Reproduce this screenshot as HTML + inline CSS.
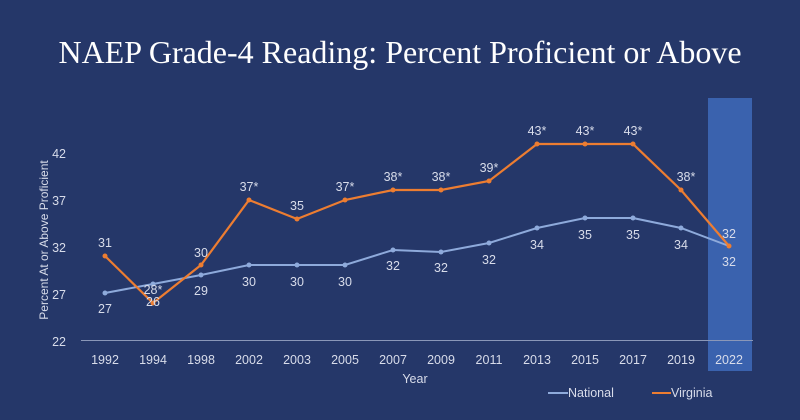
<!DOCTYPE html>
<html><head><meta charset="utf-8"><style>
html,body{margin:0;padding:0;background:#253769;}
svg{display:block}
</style></head><body>
<svg width="800" height="420" xmlns="http://www.w3.org/2000/svg" font-family="Liberation Sans, sans-serif">
<rect width="800" height="420" fill="#253769"/>
<text x="400" y="63" text-anchor="middle" font-family="Liberation Serif, serif" font-size="32" fill="#fff">NAEP Grade-4 Reading: Percent Proficient or Above</text>
<rect x="708" y="98" width="44" height="273" fill="#3a62ae"/>
<line x1="81" y1="340.5" x2="753" y2="340.5" stroke="#8a97b8" stroke-width="1"/>
<g font-size="12.5" fill="#d8dcea" text-anchor="end">
<text x="66" y="158">42</text><text x="66" y="205">37</text><text x="66" y="252">32</text><text x="66" y="299">27</text><text x="66" y="346">22</text>
</g>
<text transform="translate(48,240) rotate(-90)" text-anchor="middle" font-size="12" fill="#d8dcea">Percent At or Above Proficient</text>
<g font-size="12.5" fill="#d8dcea" text-anchor="middle">
<text x="105" y="364">1992</text><text x="153" y="364">1994</text><text x="201" y="364">1998</text><text x="249" y="364">2002</text><text x="297" y="364">2003</text><text x="345" y="364">2005</text><text x="393" y="364">2007</text><text x="441" y="364">2009</text><text x="489" y="364">2011</text><text x="537" y="364">2013</text><text x="585" y="364">2015</text><text x="633" y="364">2017</text><text x="681" y="364">2019</text><text x="729" y="364">2022</text>
<text x="415" y="383">Year</text>
</g>
<polyline fill="none" stroke="#8eaadb" stroke-width="2" points="105,293 153,284 201,275 249,265 297,265 345,265 393,250 441,252 489,243 537,228 585,218 633,218 681,228 729,246"/>
<g fill="#8eaadb"><circle cx="105" cy="293" r="2.5"/><circle cx="153" cy="284" r="2.5"/><circle cx="201" cy="275" r="2.5"/><circle cx="249" cy="265" r="2.5"/><circle cx="297" cy="265" r="2.5"/><circle cx="345" cy="265" r="2.5"/><circle cx="393" cy="250" r="2.5"/><circle cx="441" cy="252" r="2.5"/><circle cx="489" cy="243" r="2.5"/><circle cx="537" cy="228" r="2.5"/><circle cx="585" cy="218" r="2.5"/><circle cx="633" cy="218" r="2.5"/><circle cx="681" cy="228" r="2.5"/></g>
<polyline fill="none" stroke="#ed7d31" stroke-width="2.2" points="105,256 153,303 201,265 249,200 297,219 345,200 393,190 441,190 489,181 537,144 585,144 633,144 681,190 729,246"/>
<g fill="#ed7d31"><circle cx="105" cy="256" r="2.5"/><circle cx="153" cy="303" r="2.5"/><circle cx="201" cy="265" r="2.5"/><circle cx="249" cy="200" r="2.5"/><circle cx="297" cy="219" r="2.5"/><circle cx="345" cy="200" r="2.5"/><circle cx="393" cy="190" r="2.5"/><circle cx="441" cy="190" r="2.5"/><circle cx="489" cy="181" r="2.5"/><circle cx="537" cy="144" r="2.5"/><circle cx="585" cy="144" r="2.5"/><circle cx="633" cy="144" r="2.5"/><circle cx="681" cy="190" r="2.5"/><circle cx="729" cy="246" r="2.5"/></g>
<g font-size="12.5" fill="#d8dcea" text-anchor="middle">
<text x="105" y="247">31</text><text x="153" y="294">28*</text><text x="153" y="306">26</text><text x="201" y="257">30</text><text x="249" y="191">37*</text><text x="297" y="210">35</text><text x="345" y="191">37*</text><text x="393" y="181">38*</text><text x="441" y="181">38*</text><text x="489" y="172">39*</text><text x="537" y="135">43*</text><text x="585" y="135">43*</text><text x="633" y="135">43*</text><text x="686" y="181">38*</text><text x="729" y="238">32</text>
<text x="105" y="313">27</text><text x="201" y="295">29</text><text x="249" y="286">30</text><text x="297" y="286">30</text><text x="345" y="286">30</text><text x="393" y="270">32</text><text x="441" y="272">32</text><text x="489" y="264">32</text><text x="537" y="249">34</text><text x="585" y="239">35</text><text x="633" y="239">35</text><text x="681" y="249">34</text><text x="729" y="266">32</text>
</g>
<line x1="548" y1="393" x2="568" y2="393" stroke="#8eaadb" stroke-width="2"/>
<text x="568" y="397" font-size="12.5" fill="#d8dcea">National</text>
<line x1="652" y1="393" x2="671" y2="393" stroke="#ed7d31" stroke-width="2"/>
<text x="671" y="397" font-size="12.5" fill="#d8dcea">Virginia</text>
</svg>
</body></html>
